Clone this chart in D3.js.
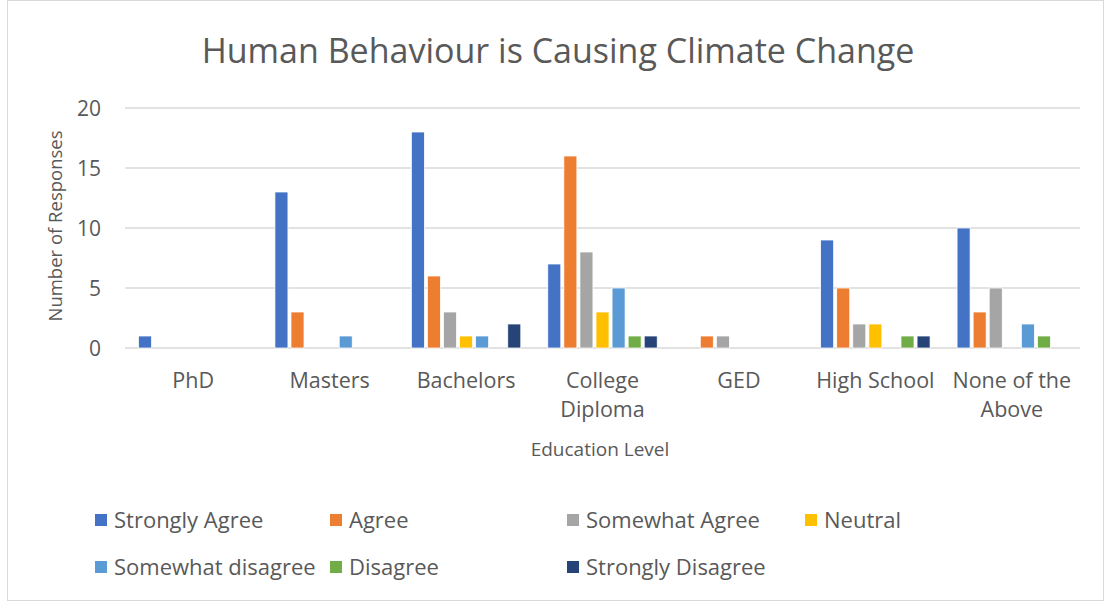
<!DOCTYPE html>
<html>
<head>
<meta charset="utf-8">
<script src="https://cdn.jsdelivr.net/npm/d3@7"></script>
<style>
  body { margin: 0; background: #fff; }
  text { font-family: "Open Sans", sans-serif; fill: #595959; }
</style>
</head>
<body>
<svg id="chart" width="1108" height="603"></svg>
<script>
// data
var categories = ['PhD', 'Masters', 'Bachelors', 'College Diploma', 'GED', 'High School', 'None of the Above'];
var categoryLines = [['PhD'], ['Masters'], ['Bachelors'], ['College', 'Diploma'], ['GED'], ['High School'], ['None of the', 'Above']];
var seriesNames = ['Strongly Agree', 'Agree', 'Somewhat Agree', 'Neutral', 'Somewhat disagree', 'Disagree', 'Strongly Disagree'];
var seriesColors = ['#4472C4', '#ED7D31', '#A5A5A5', '#FFC000', '#5B9BD5', '#70AD47', '#264478'];
var stronglyAgree    = [1, 13, 18, 7, 0, 9, 10];
var agree            = [0, 3, 6, 16, 1, 5, 3];
var somewhatAgree    = [0, 0, 3, 8, 1, 2, 5];
var neutral          = [0, 0, 1, 3, 0, 2, 0];
var somewhatDisagree = [0, 1, 1, 5, 0, 0, 2];
var disagree         = [0, 0, 0, 1, 0, 1, 1];
var stronglyDisagree = [0, 0, 2, 1, 0, 1, 0];
var yTicks = [0, 5, 10, 15, 20];

var seriesValues = [stronglyAgree, agree, somewhatAgree, neutral, somewhatDisagree, disagree, stronglyDisagree];

var svg = d3.select('#chart');

// outer frame
svg.append('rect')
	.attr('x', 7.5).attr('y', 0.5)
	.attr('width', 1096).attr('height', 600)
	.attr('fill', 'none')
	.attr('stroke', '#d9d9d9');

var margin = {left: 125, right: 1080, top: 108, bottom: 348};

var x0 = d3.scaleBand()
	.domain(categories)
	.range([margin.left, margin.right]);

var x1 = d3.scaleBand()
	.domain(seriesNames)
	.range([0, x0.bandwidth()])
	.paddingInner(0.19)
	.paddingOuter(0.84);

var y = d3.scaleLinear()
	.domain([0, 20])
	.range([margin.bottom, margin.top]);

// gridlines
svg.append('g')
	.selectAll('line')
	.data(yTicks)
	.enter().append('line')
	.attr('x1', margin.left).attr('x2', margin.right)
	.attr('y1', function(d){ return y(d); })
	.attr('y2', function(d){ return y(d); })
	.attr('stroke', '#d9d9d9')
	.attr('stroke-width', 1.3);

// y axis labels
var yAxis = d3.axisLeft(y).tickValues(yTicks).tickSize(0).tickPadding(0);
var yg = svg.append('g')
	.attr('transform', 'translate(101,0)')
	.call(yAxis);
yg.select('.domain').remove();
yg.selectAll('text')
	.style('font-size', '21px')
	.attr('fill', '#595959')
	.attr('dy', '0.35em');

// bars
var rows = [];
categories.forEach(function(cat, ci){
	seriesNames.forEach(function(s, si){
		rows.push({cat: cat, series: s, color: seriesColors[si], value: seriesValues[si][ci]});
	});
});

svg.append('g')
	.selectAll('rect')
	.data(rows.filter(function(d){ return d.value > 0; }))
	.enter().append('rect')
	.attr('x', function(d){ return x0(d.cat) + x1(d.series); })
	.attr('width', x1.bandwidth())
	.attr('y', function(d){ return y(d.value); })
	.attr('height', function(d){ return y(0) - y(d.value); })
	.attr('fill', function(d){ return d.color; })
	.attr('stroke', '#fff')
	.attr('stroke-width', 0.75);

// x axis labels
var xl = svg.append('g')
	.selectAll('text')
	.data(categories)
	.enter().append('text')
	.attr('text-anchor', 'middle')
	.attr('x', function(d){ return x0(d) + x0.bandwidth() / 2; })
	.attr('y', 388)
	.style('font-size', '21.5px');
xl.each(function(d, i){
	var t = d3.select(this);
	categoryLines[i].forEach(function(line, li){
		t.append('tspan')
			.attr('x', x0(d) + x0.bandwidth() / 2)
			.attr('dy', li === 0 ? 0 : 29)
			.text(line);
	});
});

// title
svg.append('text')
	.attr('x', 558).attr('y', 63)
	.attr('text-anchor', 'middle')
	.style('font-size', '34px')
	.text('Human Behaviour is Causing Climate Change');

// axis titles
svg.append('text')
	.attr('x', 600).attr('y', 456)
	.attr('text-anchor', 'middle')
	.style('font-size', '19px')
	.text('Education Level');

svg.append('text')
	.attr('transform', 'translate(62,226) rotate(-90)')
	.attr('text-anchor', 'middle')
	.style('font-size', '18.5px')
	.text('Number of Responses');

// legend
var legendPos = [[95, 520], [330, 520], [567, 520], [805, 520], [95, 567], [330, 567], [567, 567]];
var lg = svg.append('g')
	.selectAll('g')
	.data(seriesNames)
	.enter().append('g')
	.attr('transform', function(d, i){ return 'translate(' + legendPos[i][0] + ',' + legendPos[i][1] + ')'; });
lg.append('rect')
	.attr('x', 0).attr('y', -6)
	.attr('width', 12).attr('height', 12)
	.attr('fill', function(d, i){ return seriesColors[i]; });
lg.append('text')
	.attr('x', 19).attr('y', 0)
	.attr('dy', '0.35em')
	.style('font-size', '22px')
	.text(function(d){ return d; });
</script>
</body>
</html>
